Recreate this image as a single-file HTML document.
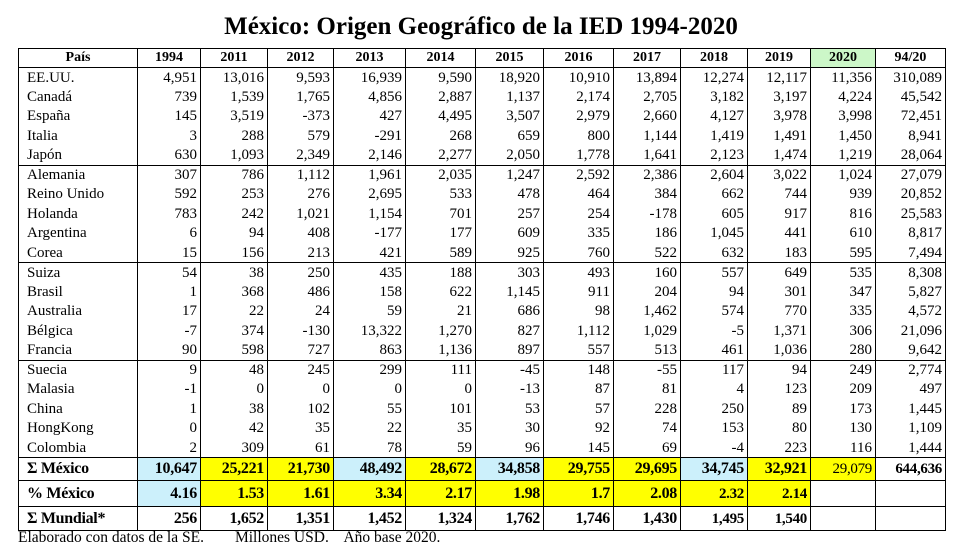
<!DOCTYPE html>
<html><head><meta charset="utf-8">
<style>
body{margin:0;background:#fff;width:962px;height:552px;overflow:hidden;font-family:"Liberation Serif",serif;color:#000;position:relative}
.title{position:absolute;left:0;width:962px;top:12px;text-align:center;font-weight:bold;font-size:25px;line-height:30px}
table{position:absolute;left:18px;top:48px;border-collapse:collapse;table-layout:fixed;width:928px}
td{border-left:1px solid #000;border-right:1px solid #000;padding:0 3px 0 0;text-align:right;font-size:15px;line-height:18px;height:19.5px;box-sizing:border-box;white-space:nowrap;overflow:hidden}
td:first-child{text-align:left;padding-left:8px}
tr.h td{font-weight:bold;font-size:14px;text-align:center;height:19px;border:1px solid #000;padding:0}
tr.top td{border-top:1px solid #000}
tr.s td{font-weight:bold;font-size:16px;border:1px solid #000;height:23px;line-height:20px;letter-spacing:-0.3px}
tr.s td:first-child{font-size:16px}
tr.s2 td{height:26px}
tr.s3 td{height:24px}
.b{background:#ccf0fb}.y{background:#ffff00}.g{background:#ccf7c8}
.foot{position:absolute;left:18px;top:529px;font-size:15.5px;white-space:pre}
</style></head><body>
<div class="title">México: Origen Geográfico de la IED 1994-2020</div>
<table>
<colgroup><col style="width:119px"><col style="width:63px"><col style="width:67px"><col style="width:66px"><col style="width:72px"><col style="width:70px"><col style="width:68px"><col style="width:70px"><col style="width:67px"><col style="width:67px"><col style="width:63px"><col style="width:65px"><col style="width:70px"></colgroup>
<tr class="h"><td style="text-align:center;padding:0">País</td><td>1994</td><td>2011</td><td>2012</td><td>2013</td><td>2014</td><td>2015</td><td>2016</td><td>2017</td><td>2018</td><td>2019</td><td class="g">2020</td><td>94/20</td></tr>
<tr><td>EE.UU.</td><td>4,951</td><td>13,016</td><td>9,593</td><td>16,939</td><td>9,590</td><td>18,920</td><td>10,910</td><td>13,894</td><td>12,274</td><td>12,117</td><td>11,356</td><td>310,089</td></tr>
<tr><td>Canadá</td><td>739</td><td>1,539</td><td>1,765</td><td>4,856</td><td>2,887</td><td>1,137</td><td>2,174</td><td>2,705</td><td>3,182</td><td>3,197</td><td>4,224</td><td>45,542</td></tr>
<tr><td>España</td><td>145</td><td>3,519</td><td>-373</td><td>427</td><td>4,495</td><td>3,507</td><td>2,979</td><td>2,660</td><td>4,127</td><td>3,978</td><td>3,998</td><td>72,451</td></tr>
<tr><td>Italia</td><td>3</td><td>288</td><td>579</td><td>-291</td><td>268</td><td>659</td><td>800</td><td>1,144</td><td>1,419</td><td>1,491</td><td>1,450</td><td>8,941</td></tr>
<tr><td>Japón</td><td>630</td><td>1,093</td><td>2,349</td><td>2,146</td><td>2,277</td><td>2,050</td><td>1,778</td><td>1,641</td><td>2,123</td><td>1,474</td><td>1,219</td><td>28,064</td></tr>
<tr class="top"><td>Alemania</td><td>307</td><td>786</td><td>1,112</td><td>1,961</td><td>2,035</td><td>1,247</td><td>2,592</td><td>2,386</td><td>2,604</td><td>3,022</td><td>1,024</td><td>27,079</td></tr>
<tr><td>Reino Unido</td><td>592</td><td>253</td><td>276</td><td>2,695</td><td>533</td><td>478</td><td>464</td><td>384</td><td>662</td><td>744</td><td>939</td><td>20,852</td></tr>
<tr><td>Holanda</td><td>783</td><td>242</td><td>1,021</td><td>1,154</td><td>701</td><td>257</td><td>254</td><td>-178</td><td>605</td><td>917</td><td>816</td><td>25,583</td></tr>
<tr><td>Argentina</td><td>6</td><td>94</td><td>408</td><td>-177</td><td>177</td><td>609</td><td>335</td><td>186</td><td>1,045</td><td>441</td><td>610</td><td>8,817</td></tr>
<tr><td>Corea</td><td>15</td><td>156</td><td>213</td><td>421</td><td>589</td><td>925</td><td>760</td><td>522</td><td>632</td><td>183</td><td>595</td><td>7,494</td></tr>
<tr class="top"><td>Suiza</td><td>54</td><td>38</td><td>250</td><td>435</td><td>188</td><td>303</td><td>493</td><td>160</td><td>557</td><td>649</td><td>535</td><td>8,308</td></tr>
<tr><td>Brasil</td><td>1</td><td>368</td><td>486</td><td>158</td><td>622</td><td>1,145</td><td>911</td><td>204</td><td>94</td><td>301</td><td>347</td><td>5,827</td></tr>
<tr><td>Australia</td><td>17</td><td>22</td><td>24</td><td>59</td><td>21</td><td>686</td><td>98</td><td>1,462</td><td>574</td><td>770</td><td>335</td><td>4,572</td></tr>
<tr><td>Bélgica</td><td>-7</td><td>374</td><td>-130</td><td>13,322</td><td>1,270</td><td>827</td><td>1,112</td><td>1,029</td><td>-5</td><td>1,371</td><td>306</td><td>21,096</td></tr>
<tr><td>Francia</td><td>90</td><td>598</td><td>727</td><td>863</td><td>1,136</td><td>897</td><td>557</td><td>513</td><td>461</td><td>1,036</td><td>280</td><td>9,642</td></tr>
<tr class="top"><td>Suecia</td><td>9</td><td>48</td><td>245</td><td>299</td><td>111</td><td>-45</td><td>148</td><td>-55</td><td>117</td><td>94</td><td>249</td><td>2,774</td></tr>
<tr><td>Malasia</td><td>-1</td><td>0</td><td>0</td><td>0</td><td>0</td><td>-13</td><td>87</td><td>81</td><td>4</td><td>123</td><td>209</td><td>497</td></tr>
<tr><td>China</td><td>1</td><td>38</td><td>102</td><td>55</td><td>101</td><td>53</td><td>57</td><td>228</td><td>250</td><td>89</td><td>173</td><td>1,445</td></tr>
<tr><td>HongKong</td><td>0</td><td>42</td><td>35</td><td>22</td><td>35</td><td>30</td><td>92</td><td>74</td><td>153</td><td>80</td><td>130</td><td>1,109</td></tr>
<tr><td>Colombia</td><td>2</td><td>309</td><td>61</td><td>78</td><td>59</td><td>96</td><td>145</td><td>69</td><td>-4</td><td>223</td><td>116</td><td>1,444</td></tr>
<tr class="s"><td>Σ México</td><td class="b">10,647</td><td class="y">25,221</td><td class="y">21,730</td><td class="b">48,492</td><td class="y">28,672</td><td class="b">34,858</td><td class="y">29,755</td><td class="y">29,695</td><td class="b">34,745</td><td class="y">32,921</td><td class="y" style="font-weight:normal;font-size:15px">29,079</td><td style="font-size:15px">644,636</td></tr>
<tr class="s s2"><td>% México</td><td class="b">4.16</td><td class="y">1.53</td><td class="y">1.61</td><td class="y">3.34</td><td class="y">2.17</td><td class="y">1.98</td><td class="y">1.7</td><td class="y">2.08</td><td class="y" style="font-size:15px">2.32</td><td class="y" style="font-size:15px">2.14</td><td></td><td></td></tr>
<tr class="s s3"><td>Σ Mundial*</td><td>256</td><td>1,652</td><td>1,351</td><td>1,452</td><td>1,324</td><td>1,762</td><td>1,746</td><td>1,430</td><td style="font-size:15px">1,495</td><td style="font-size:15px">1,540</td><td></td><td></td></tr>
</table>
<div class="foot">Elaborado con datos de la SE.        Millones USD.    Año base 2020.</div>
</body></html>
